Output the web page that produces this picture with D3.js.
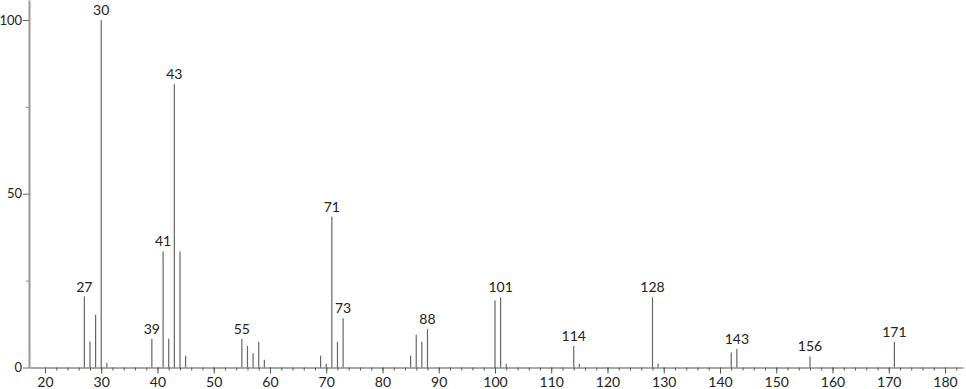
<!DOCTYPE html>
<html>
<head>
<meta charset="utf-8">
<script src="https://cdn.jsdelivr.net/npm/d3@7"></script>
<style>
  body { margin: 0; background: #fff; }
  svg text { font-family: "Lato", "DejaVu Sans", sans-serif; fill: #222; }
</style>
</head>
<body>
<div id="chart"></div>
<script>
// spectre de masse : m/z et intensite relative (%)
const mz = [27, 28, 29, 30, 31, 39, 41, 42, 43, 44, 45,
            55, 56, 57, 58, 59, 69, 70, 71, 72, 73,
            85, 86, 87, 88, 100, 101, 102, 114, 115,
            128, 129, 142, 143, 156, 171];
const intensity = [20.4, 7.5, 15.2, 100, 1.3, 8.3, 33.4, 8.3, 81.5, 33.4, 3.4,
                   8.2, 6.2, 4.1, 7.4, 2.2, 3.4, 1.1, 43.4, 7.4, 14.2,
                   3.4, 9.4, 7.4, 11.1, 19.3, 20.2, 1.1, 6.2, 1.1,
                   20.2, 1.1, 4.3, 5.3, 3.2, 7.4];
// pics qui ont une etiquette
const labeled = [27, 30, 39, 41, 43, 55, 71, 73, 88, 101, 114, 128, 143, 156, 171];
const xMajor = d3.range(20, 181, 10);
const xMinor = d3.range(20, 183, 2);
const yMajor = [0, 50, 100];
const yMinor = [25, 75];

const W = 966, H = 389;

const svg = d3.select("#chart")
              .append("svg")
              .attr("width", W)
              .attr("height", H);

const x = d3.scaleLinear()
            .domain([17.16, 183.2])
            .range([29, 963]);

const y = d3.scaleLinear()
            .domain([0, 105.75])
            .range([367.5, 0]);

// axe x : petites graduations puis grandes
const gMinor = svg.append("g")
                  .attr("transform", `translate(0,${y(0)})`)
                  .call(d3.axisBottom(x).tickValues(xMinor).tickSize(3).tickSizeOuter(0).tickFormat(""));
gMinor.select(".domain").attr("stroke", "#555");
gMinor.selectAll(".tick line").attr("stroke", "#555");

const gX = svg.append("g")
              .attr("transform", `translate(0,${y(0)})`)
              .call(d3.axisBottom(x).tickValues(xMajor).tickSize(6).tickSizeOuter(0).tickPadding(4));
gX.select(".domain").remove();
gX.selectAll(".tick line").attr("stroke", "#555");
gX.selectAll("text").style("font-size", "14px");

// axe y
const gYm = svg.append("g")
               .attr("transform", `translate(${x.range()[0]},0)`)
               .call(d3.axisLeft(y).tickValues(yMinor).tickSize(3).tickSizeOuter(0).tickFormat(""));
gYm.select(".domain").remove();
gYm.selectAll(".tick line").attr("stroke", "#888");

const gY = svg.append("g")
              .attr("transform", `translate(${x.range()[0]},0)`)
              .call(d3.axisLeft(y).tickValues(yMajor).tickSize(6).tickSizeOuter(0).tickPadding(1));
gY.select(".domain").attr("stroke", "#999").attr("stroke-width", 2);
gY.selectAll(".tick line").attr("stroke", "#666");
gY.selectAll("text").style("font-size", "13px");

// les pics
svg.append("g")
   .selectAll("line")
   .data(mz)
   .enter()
   .append("line")
   .attr("x1", d => x(d))
   .attr("x2", d => x(d))
   .attr("y1", y(0))
   .attr("y2", (d, i) => y(intensity[i]))
   .attr("stroke", "#666")
   .attr("stroke-width", 1.2);

// etiquettes des pics
svg.append("g")
   .selectAll("text")
   .data(labeled)
   .enter()
   .append("text")
   .attr("x", d => x(d))
   .attr("y", d => y(intensity[mz.indexOf(d)]) - 5)
   .attr("text-anchor", "middle")
   .style("font-size", "14px")
   .text(d => d);
</script>
</body>
</html>
